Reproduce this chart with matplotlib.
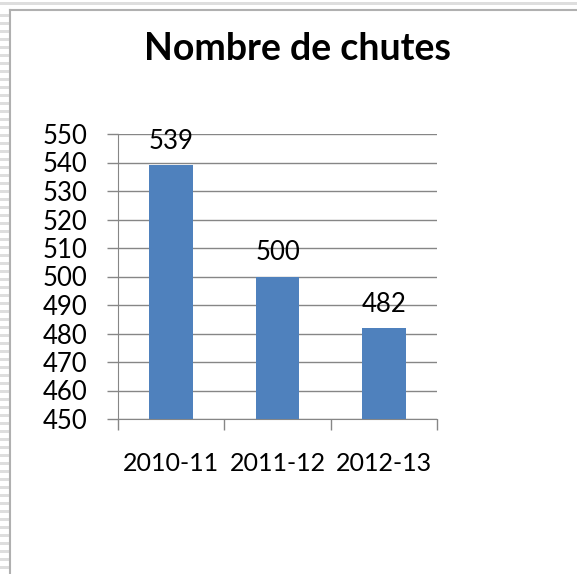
import matplotlib
matplotlib.use("Agg")
import matplotlib.pyplot as plt
from matplotlib.lines import Line2D
from matplotlib.patches import Rectangle

# data
seasons = ['2010-11', '2011-12', '2012-13']
falls = [539, 500, 482]
title = 'Nombre de chutes'

W, H = 577, 574
plt.rcParams['font.family'] = ['Lato', 'DejaVu Sans']

fig = plt.figure(figsize=(W / 100, H / 100), dpi=100)

# page decoration (sheet border and striped edges)
fig.add_artist(Rectangle((0, 1 - 5 / H), 1, 3 / H, transform=fig.transFigure,
                         color='#dedede', lw=0))
for yp in range(14, H, 8):
    fig.add_artist(Rectangle((0, 1 - (yp + 3) / H), 9 / W, 3 / H,
                             transform=fig.transFigure, color='#dedede', lw=0))
fig.add_artist(Line2D([10 / W, 10 / W], [0, 1 - 10 / H], transform=fig.transFigure,
                      color='#b0b0b0', lw=1.5))
fig.add_artist(Line2D([10 / W, 1], [1 - 10 / H, 1 - 10 / H], transform=fig.transFigure,
                      color='#b0b0b0', lw=1.5))

ax = fig.add_axes([118 / W, 1 - 419 / H, (437 - 118) / W, (419 - 134) / H])

x = range(len(seasons))
bars = ax.bar(x, falls, width=0.41, color='#4F81BD', zorder=3)
for b, v in zip(bars, falls):
    ax.annotate(str(v), (b.get_x() + b.get_width() / 2, v), xytext=(0, 17),
                textcoords='offset points', ha='center', va='center', fontsize=18.5)

ax.set_ylim(450, 550)
ax.set_yticks(range(450, 551, 10))
ax.set_xlim(-0.5, 2.5)
ax.set_xticks(list(x))
ax.set_xticklabels(seasons, fontsize=18)
ax.set_xticks([-0.5, 0.5, 1.5, 2.5], minor=True)
ax.tick_params(axis='x', which='major', length=0, pad=24)
ax.tick_params(axis='x', which='minor', length=8, color='#868686', width=1)
ax.tick_params(axis='y', length=8, color='#868686', width=1, labelsize=18.5, pad=14)
ax.grid(axis='y', color='#868686', lw=1, zorder=0)
for s in ['top', 'right']:
    ax.spines[s].set_visible(False)
for s in ['left', 'bottom']:
    ax.spines[s].set_color('#868686')

fig.text(298 / W, 1 - 49 / H, title, ha='center', va='center',
         fontsize=27, fontweight='bold')

fig.savefig('out.png', dpi=100)
